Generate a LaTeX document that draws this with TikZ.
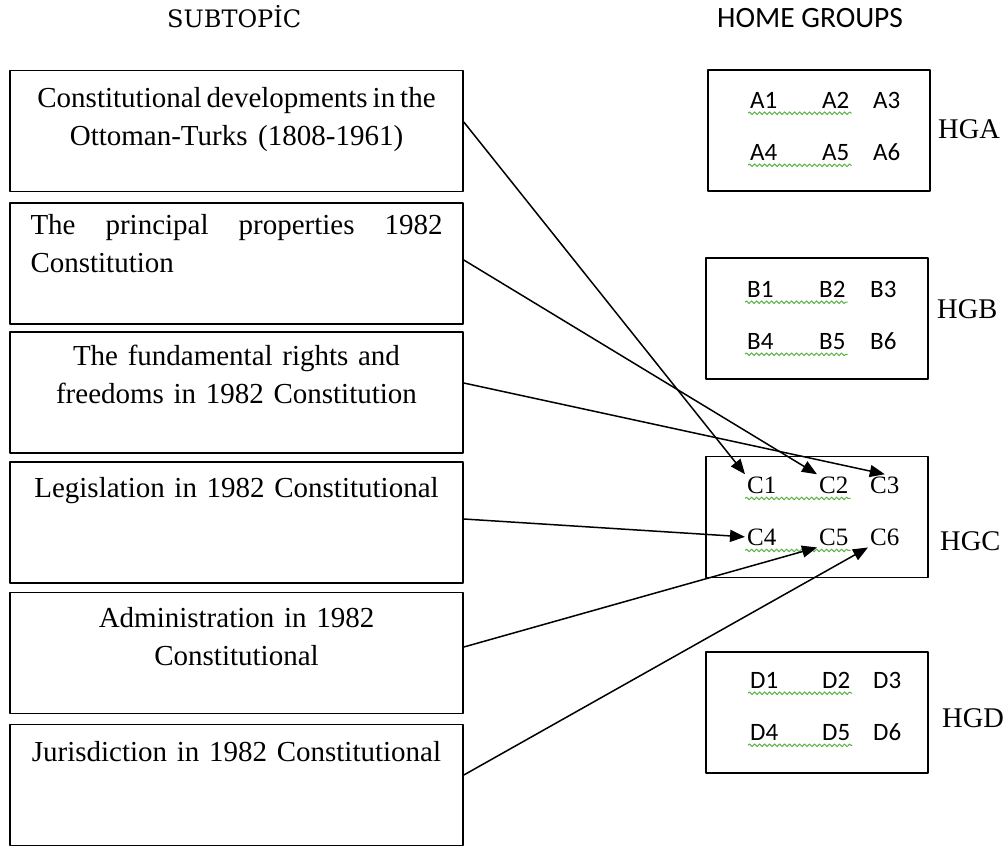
\documentclass[tikz,border=0pt]{standalone}
\usepackage{fontspec}
\setmainfont{Liberation Serif}
\newfontfamily\calib{Carlito}
\newfontfamily\slab{DejaVu Serif}
\usetikzlibrary{arrows.meta,decorations.pathmorphing}
\definecolor{squig}{RGB}{92,178,70}
\begin{document}
\begin{tikzpicture}[x=1pt,y=-1pt,>={Triangle[length=15pt,width=12pt]},line join=round,
	topic/.style={draw,line width=1.6pt,minimum width=453pt,minimum height=121pt,inner sep=0},
	group/.style={draw,line width=1.6pt,minimum width=222pt,minimum height=121pt,inner sep=0},
	words/.style={anchor=north,text width=412pt,inner sep=0,font=\fontsize{29}{38}\selectfont},
	hg/.style={anchor=base west,inner sep=0,font=\fontsize{28.5}{30}\selectfont},
	link/.style={->,line width=1.5pt},
	wavy/.style={draw=squig,line width=1pt,decorate,decoration={snake,amplitude=1.3pt,segment length=5pt}}]
	\useasboundingbox (0,0) rectangle (1008,847);
	\node[anchor=base west,inner sep=0,font=\slab\fontsize{24}{28}\selectfont] (subtopic) at (167,27) {SUBTOPİC};
	\node[anchor=base west,inner sep=0,font=\calib\fontsize{29.5}{30}\selectfont] (home) at (717,27) {HOME GROUPS};
	\node[topic] (s1) at (236.5,131) {};
	\node[topic] (s2) at (236.5,263.5) {};
	\node[topic] (s3) at (236.5,392.5) {};
	\node[topic] (s4) at (236.5,522.5) {};
	\node[topic] (s5) at (236.5,653) {};
	\node[topic] (s6) at (236.5,785) {};
	\node[words,align=center,text width=440pt] (t1) at ([yshift=-17pt]s1.north) {\spaceskip=.17em\relax Constitutional developments in the\\{\spaceskip=0pt\relax Ottoman-Turks (1808-1961)}};
	\node[words,align=left] (t2) at ([yshift=-12pt]s2.north) {The\hfill principal\hfill properties\hfill 1982\\Constitution};
	\node[words,align=center] (t3) at ([yshift=-14pt]s3.north) {The fundamental rights and\\freedoms in 1982 Constitution};
	\node[words,align=center,text width=440pt] (t4) at ([yshift=-16pt]s4.north) {Legislation in 1982 Constitutional};
	\node[words,align=center] (t5) at ([yshift=-15pt]s5.north) {Administration in 1982\\Constitutional};
	\node[words,align=center,text width=440pt] (t6) at ([yshift=-17pt]s6.north) {Jurisdiction in 1982 Constitutional};
	\node[group] (grpA) at (819,130.5) {};
	\node[group] (grpB) at (817,318.5) {};
	\node[group] (grpC) at (817,517) {};
	\node[group] (grpD) at (817,712.5) {};
	\foreach \g/\gx/\gy/\fnt in {A/748/108/\calib, B/745/297/\calib, C/745/493/\rmfamily, D/748/688/\calib}
	\foreach \i/\dx/\row in {1/0/0, 2/72/0, 3/123/0, 4/0/1, 5/72/1, 6/123/1}
	\node[anchor=base west,inner sep=2pt,font=\fnt\fontsize{25}{30}\selectfont] (\g\i) at (\gx+\dx,\gy+52*\row) {\g\i};
	\foreach \g in {A,B,C,D}{
		\draw[wavy] ([yshift=-3pt]\g1.south west) -- ([yshift=-3pt]\g2.south east);
		\draw[wavy] ([yshift=-3pt]\g4.south west) -- ([yshift=-3pt]\g5.south east);
	}
	\node[hg] (labA) at (938,138) {HGA};
	\node[hg] (labB) at (937,318) {HGB};
	\node[hg] (labC) at (940,550) {HGC};
	\node[hg] (labD) at (942,727) {HGD};
	\draw[link] ([yshift=9pt]s1.east) -- (C1.north west);
	\draw[link] ([yshift=3.5pt]s2.east) -- (C2.north west);
	\draw[link] ([yshift=9.5pt]s3.east) -- (C3.north);
	\draw[link] ([yshift=3.5pt]s4.east) -- (C4.west);
	\draw[link] ([yshift=6pt]s5.east) -- (C5.south west);
	\draw[link] ([yshift=10pt]s6.east) -- (C6.south west);
\end{tikzpicture}
\end{document}
